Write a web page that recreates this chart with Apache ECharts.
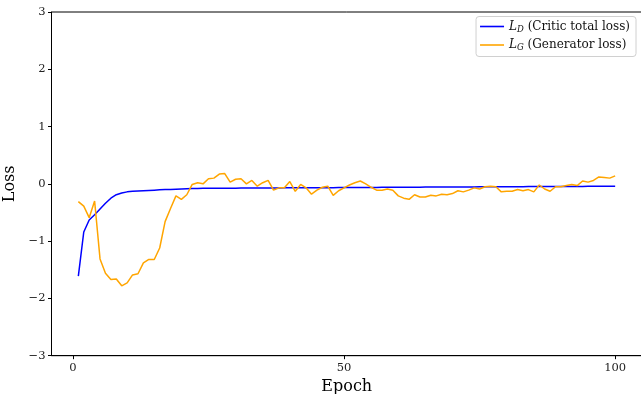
<!DOCTYPE html>
<html>
<head>
<meta charset="utf-8">
<script src="https://cdn.jsdelivr.net/npm/echarts@6/dist/echarts.min.js"></script>
<style>
  html, body { margin: 0; padding: 0; background: #fff; }
  #chart { width: 641px; height: 394px; }
</style>
</head>
<body>
<div id="chart"></div>
<script>
// Training epochs 1..100
const epochs = Array.from({ length: 100 }, (_, i) => i + 1);

// Critic total loss L_D per epoch
const criticLoss = [
  -1.61, -0.84, -0.63, -0.54, -0.44, -0.34, -0.25, -0.19, -0.16, -0.14,
  -0.13, -0.125, -0.12, -0.115, -0.11, -0.105, -0.10, -0.10, -0.095, -0.09,
  -0.085, -0.08, -0.08, -0.078, -0.077, -0.076, -0.076, -0.075, -0.075, -0.075,
  -0.074, -0.074, -0.073, -0.073, -0.072, -0.072, -0.071, -0.071, -0.070, -0.070,
  -0.069, -0.069, -0.068, -0.068, -0.067, -0.067, -0.066, -0.066, -0.065, -0.065,
  -0.064, -0.064, -0.063, -0.063, -0.062, -0.062, -0.061, -0.061, -0.060, -0.060,
  -0.059, -0.059, -0.058, -0.058, -0.057, -0.057, -0.056, -0.056, -0.055, -0.055,
  -0.054, -0.054, -0.053, -0.053, -0.052, -0.052, -0.051, -0.051, -0.050, -0.050,
  -0.050, -0.049, -0.049, -0.048, -0.048, -0.047, -0.047, -0.047, -0.046, -0.046,
  -0.046, -0.045, -0.045, -0.045, -0.044, -0.044, -0.044, -0.043, -0.043, -0.043
];

// Generator loss L_G per epoch
const generatorLoss = [
  -0.31, -0.39, -0.59, -0.30, -1.31, -1.56, -1.67, -1.66, -1.78, -1.73,
  -1.59, -1.57, -1.38, -1.32, -1.32, -1.12, -0.66, -0.43, -0.21, -0.27,
  -0.19, -0.01, 0.02, 0.00, 0.09, 0.10, 0.17, 0.18, 0.03, 0.08,
  0.09, 0.00, 0.06, -0.04, 0.02, 0.06, -0.11, -0.07, -0.07, 0.04,
  -0.13, -0.01, -0.07, -0.18, -0.11, -0.06, -0.04, -0.20, -0.12, -0.07,
  -0.02, 0.02, 0.05, 0.00, -0.06, -0.11, -0.11, -0.09, -0.11, -0.21,
  -0.25, -0.27, -0.19, -0.23, -0.23, -0.20, -0.21, -0.18, -0.19, -0.17,
  -0.12, -0.14, -0.11, -0.07, -0.09, -0.05, -0.04, -0.05, -0.14, -0.13,
  -0.13, -0.10, -0.12, -0.10, -0.14, -0.02, -0.09, -0.13, -0.05, -0.05,
  -0.03, -0.01, -0.03, 0.05, 0.03, 0.06, 0.12, 0.11, 0.10, 0.14
];

const xTicks = [0, 50, 100];
const yTicks = [-3, -2, -1, 0, 1, 2, 3];

const FONT = '"DejaVu Serif", "Liberation Serif", serif';
const minus = v => String(v).replace('-', '\u2212');

const chart = echarts.init(document.getElementById('chart'), null, { renderer: 'canvas' });

chart.setOption({
  animation: false,
  backgroundColor: '#fff',
  grid: {
    left: 51.5, right: -1, top: 12, bottom: 38.3,
    containLabel: false,
    outerBoundsMode: 'none',
    show: true, borderColor: '#000', borderWidth: 1, backgroundColor: 'transparent'
  },
  legend: {
    orient: 'vertical',
    right: 5,
    top: 16.5,
    icon: 'rect',
    itemWidth: 24,
    itemHeight: 1.6,
    itemGap: 5,
    padding: [4, 6, 4, 4],
    backgroundColor: '#fff',
    borderColor: '#d0d0d0',
    borderWidth: 1,
    borderRadius: 3,
    textStyle: {
      fontFamily: FONT, fontSize: 12, color: '#111', lineHeight: 12,
      rich: {
        L: { fontFamily: FONT, fontStyle: 'italic', fontSize: 12, color: '#111' },
        sub: { fontFamily: FONT, fontStyle: 'italic', fontSize: 8.5, color: '#111', padding: [6, 0, 0, 0] },
        t: { fontFamily: FONT, fontSize: 12, color: '#111' }
      }
    },
    formatter: name => {
      const parts = name.split('|');
      return '{L|L}{sub|' + parts[0] + '}{t| ' + parts[1] + '}';
    },
    data: ['D|(Critic total loss)', 'G|(Generator loss)']
  },
  xAxis: {
    type: 'value',
    min: -3.95,
    max: 104.95,
    name: 'Epoch',
    nameLocation: 'middle',
    nameGap: 22.5,
    nameTextStyle: { fontFamily: FONT, fontSize: 16, color: '#000' },
    splitLine: { show: false },
    axisLine: { show: true, onZero: false, lineStyle: { color: '#000', width: 1 } },
    axisTick: { show: true, length: 3.5, inside: false, customValues: xTicks, lineStyle: { color: '#000' } },
    axisLabel: {
      customValues: xTicks,
      fontFamily: FONT, fontSize: 11.5, color: '#222', margin: 6,
      formatter: v => minus(v)
    }
  },
  yAxis: {
    type: 'value',
    min: -3,
    max: 3,
    interval: 1,
    name: 'Loss',
    nameLocation: 'middle',
    nameRotate: 90,
    nameGap: 33,
    nameTextStyle: { fontFamily: FONT, fontSize: 16, color: '#000' },
    splitLine: { show: false },
    axisLine: { show: true, onZero: false, lineStyle: { color: '#000', width: 1 } },
    axisTick: { show: true, length: 3.5, inside: false, customValues: yTicks, lineStyle: { color: '#000' } },
    axisLabel: {
      customValues: yTicks,
      fontFamily: FONT, fontSize: 11.5, color: '#222', margin: 6,
      formatter: v => minus(v)
    }
  },
  series: [
    {
      name: 'D|(Critic total loss)',
      type: 'line',
      symbol: 'none',
      showSymbol: false,
      lineStyle: { color: '#0000ff', width: 1.5 },
      itemStyle: { color: '#0000ff' },
      data: epochs.map((e, i) => [e, criticLoss[i]])
    },
    {
      name: 'G|(Generator loss)',
      type: 'line',
      symbol: 'none',
      showSymbol: false,
      lineStyle: { color: '#ffa500', width: 1.5 },
      itemStyle: { color: '#ffa500' },
      data: epochs.map((e, i) => [e, generatorLoss[i]])
    }
  ]
});
</script>
</body>
</html>
